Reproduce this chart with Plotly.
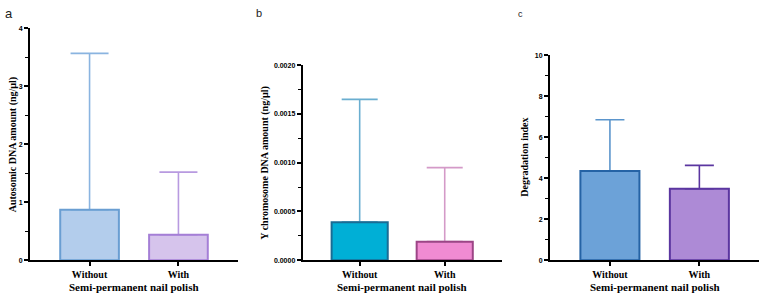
import plotly.graph_objects as go

categories = ["Without", "With"]
autosomic_mean = [0.87, 0.44]
autosomic_err = [2.70, 1.08]
ychrom_mean = [0.00039, 0.00019]
ychrom_err = [0.00126, 0.00076]
degr_mean = [4.35, 3.48]
degr_err = [2.50, 1.14]

W, H = 763, 300
fig = go.Figure()

panels = [
    dict(mean=autosomic_mean, err=autosomic_err,
         fill=["#b3cdec", "#d6c4ec"], line=["#6a9ed2", "#a57fd6"], errc=["#8ab4e0", "#b89ae0"],
         x0=30, x1=238, ytop=25, yr=[0, 4], dtick=1, minor=0.5, fmt="d",
         ytitle="Autosomic DNA amount (ng/µl)", ytx=13, cap=19),
    dict(mean=ychrom_mean, err=ychrom_err,
         fill=["#00afd6", "#f08bd2"], line=["#1a6c94", "#9c4586"], errc=["#6aaed0", "#d49ac8"],
         x0=302.7, x1=501.7, ytop=62.7, yr=[0, 0.002], dtick=0.0005, minor=0.00025, fmt=".4f",
         ytitle="Y chromosome DNA amount (ng/µl)", ytx=265, cap=18),
    dict(mean=degr_mean, err=degr_err,
         fill=["#6ca2d8", "#ad8ad6"], line=["#2563a5", "#5b36a0"], errc=["#5b95cc", "#5b36a0"],
         x0=550, x1=759.3, ytop=52.3, yr=[0, 10], dtick=2, minor=1, fmt="d",
         ytitle="Degradation index", ytx=525, cap=14.5),
]

ybot = 262.3
serif = "Liberation Serif"
sans = "Liberation Sans"

for i, p in enumerate(panels):
    n = "" if i == 0 else str(i + 1)
    for j in range(2):
        fig.add_trace(go.Bar(
            x=[categories[j]], y=[p["mean"][j]], xaxis="x" + n, yaxis="y" + n,
            width=0.66, marker=dict(color=p["fill"][j], line=dict(width=0)),
            error_y=dict(type="data", symmetric=False, array=[p["err"][j]], arrayminus=[0],
                         color=p["errc"][j], thickness=1.6, width=p["cap"]),
            showlegend=False, hoverinfo="skip"))
        fig.add_trace(go.Bar(
            x=[categories[j]], y=[p["mean"][j]], xaxis="x" + n, yaxis="y" + n,
            width=0.66, marker=dict(color="rgba(0,0,0,0)", line=dict(color=p["line"][j], width=2)),
            showlegend=False, hoverinfo="skip"))
    xd = [p["x0"] / W, p["x1"] / W]
    yd = [1 - ybot / H, 1 - p["ytop"] / H]
    fig.layout["xaxis" + n] = dict(
        domain=xd, anchor="y" + n, type="category", range=[-0.67, 1.67],
        showline=True, linecolor="black", linewidth=2, ticks="outside", ticklen=4,
        tickwidth=1.5, tickcolor="black", showgrid=False, zeroline=False,
        tickfont=dict(family=serif, size=10, color="black", weight="bold"))
    fig.layout["yaxis" + n] = dict(
        domain=yd, anchor="x" + n, range=p["yr"], dtick=p["dtick"], tick0=0,
        showline=True, linecolor="black", linewidth=2, ticks="outside", ticklen=4,
        tickwidth=1.5, tickcolor="black", showgrid=False, zeroline=False,
        tickformat=p["fmt"], tickfont=dict(family=sans, size=7, color="black", weight="bold"),
        minor=dict(ticks="outside", ticklen=3, dtick=p["minor"], tickwidth=1.2, tickcolor="black",
                   showgrid=False))
    fig.add_annotation(x=(p["x0"] + p["x1"]) / 2 / W, y=1 - 290 / H, xref="paper", yref="paper",
                       text="<b>Semi-permanent nail polish</b>", showarrow=False,
                       font=dict(family=serif, size=11, color="black"), xanchor="center", yanchor="middle")
    fig.add_annotation(x=p["ytx"] / W, y=1 - (p["ytop"] + ybot) / 2 / H, xref="paper", yref="paper",
                       text="<b>" + p["ytitle"] + "</b>", showarrow=False, textangle=-90,
                       font=dict(family=serif, size=10, color="black"), xanchor="center", yanchor="middle")

letters = [("a", 9, 10, 13), ("b", 259, 9, 11), ("c", 520, 10, 9)]
for t, x, y, s in letters:
    fig.add_annotation(x=x / W, y=1 - y / H, xref="paper", yref="paper", text=t, showarrow=False,
                       font=dict(family=sans, size=s, color="#222"), xanchor="center", yanchor="middle")

fig.update_layout(width=W, height=H, margin=dict(l=0, r=0, t=0, b=0), barmode="overlay",
                  paper_bgcolor="white", plot_bgcolor="white")
fig.write_html("out.html")
